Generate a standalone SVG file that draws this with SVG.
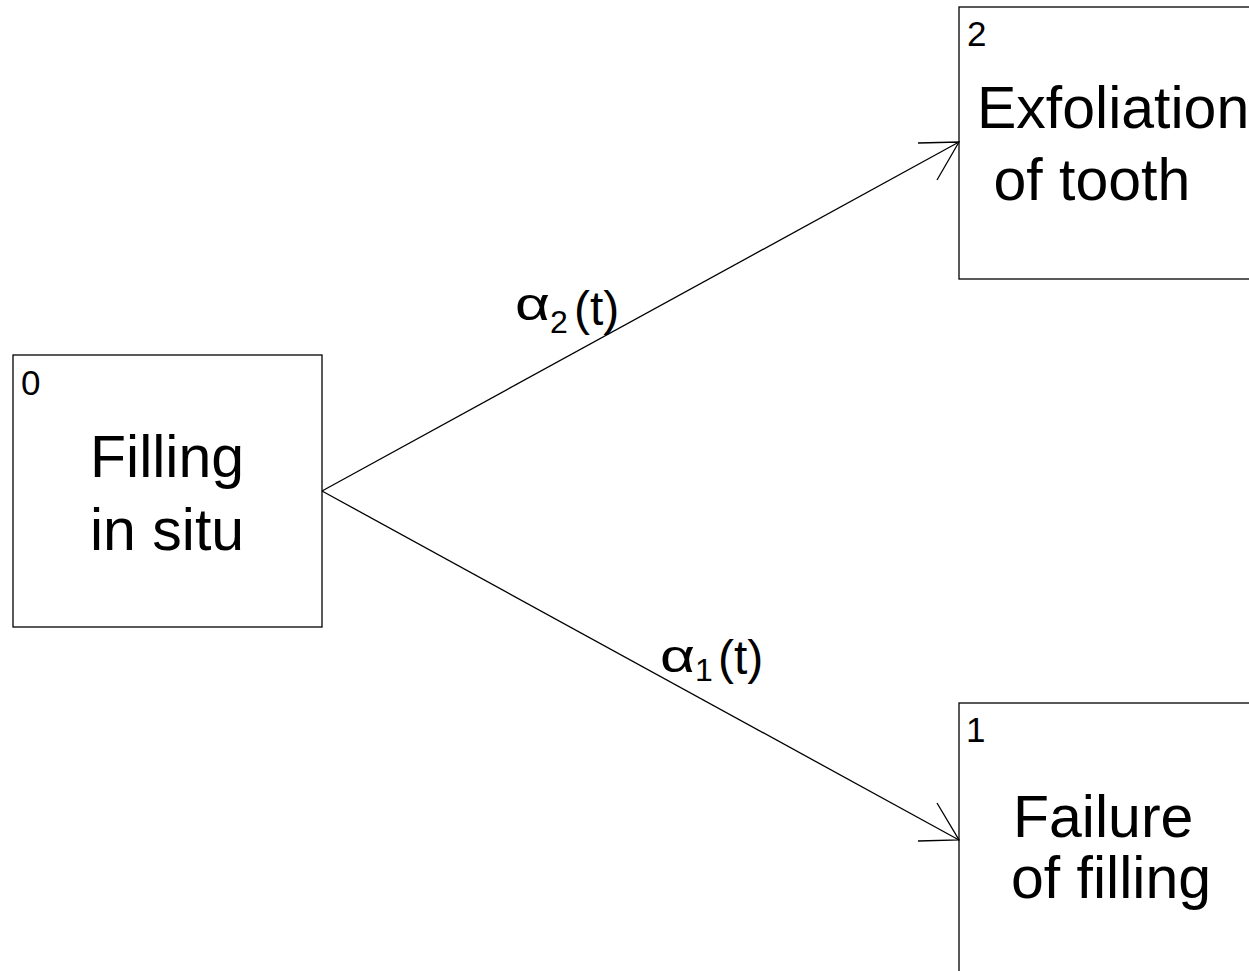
<svg xmlns="http://www.w3.org/2000/svg" width="1249" height="971" viewBox="0 0 1249 971">
<style>
.box{fill:#fff;stroke:#000;stroke-width:1.3}
.big{font-family:"Liberation Sans",Arial,sans-serif;font-size:59px;fill:#000}
.num{font-family:"Liberation Sans",Arial,sans-serif;font-size:35px;fill:#000}
.lab{font-family:"Liberation Sans",Arial,sans-serif;font-size:48px;fill:#000}
.alpha{font-family:"Liberation Sans",Arial,sans-serif;font-size:46px;fill:#000}
.sub{font-family:"Liberation Sans",Arial,sans-serif;font-size:32px;fill:#000}
.edge{fill:none;stroke:#000;stroke-width:1.3}
</style>
<rect width="1249" height="971" fill="#fff"/>
<g id="node0">
<rect class="box" x="13" y="355" width="309" height="272"/>
<text class="num" x="21" y="395">0</text>
<text class="big" x="90" y="477">Filling</text>
<text class="big" x="90" y="550">in situ</text>
</g>
<g id="node2">
<rect class="box" x="959" y="7" width="320" height="272"/>
<text class="num" x="967" y="46">2</text>
<text class="big" x="977" y="128">Exfoliation</text>
<text class="big" x="977" y="200" xml:space="preserve"> of tooth</text>
</g>
<g id="node1">
<rect class="box" x="959" y="703" width="320" height="300"/>
<text class="num" x="966" y="742">1</text>
<text class="big" x="1013" y="837">Failure</text>
<text class="big" x="1011" y="898">of filling</text>
</g>
<g id="connectors">
<path class="edge" d="M322,491 L959,142"/>
<path class="edge" d="M918,143 L959,142 L937,180"/>
<path class="edge" d="M322,491 L959,840"/>
<path class="edge" d="M918,841 L959,840 L937,803"/>
<g id="label-a2">
<text class="alpha" x="515" y="320" textLength="35" lengthAdjust="spacingAndGlyphs">α</text>
<text class="sub" x="550" y="333">2</text>
<text class="lab" x="574" y="325">(t)</text>
</g>
<g id="label-a1">
<text class="alpha" x="660" y="672" textLength="35" lengthAdjust="spacingAndGlyphs">α</text>
<text class="sub" x="695" y="681">1</text>
<text class="lab" x="718" y="674">(t)</text>
</g>
</g>
</svg>
